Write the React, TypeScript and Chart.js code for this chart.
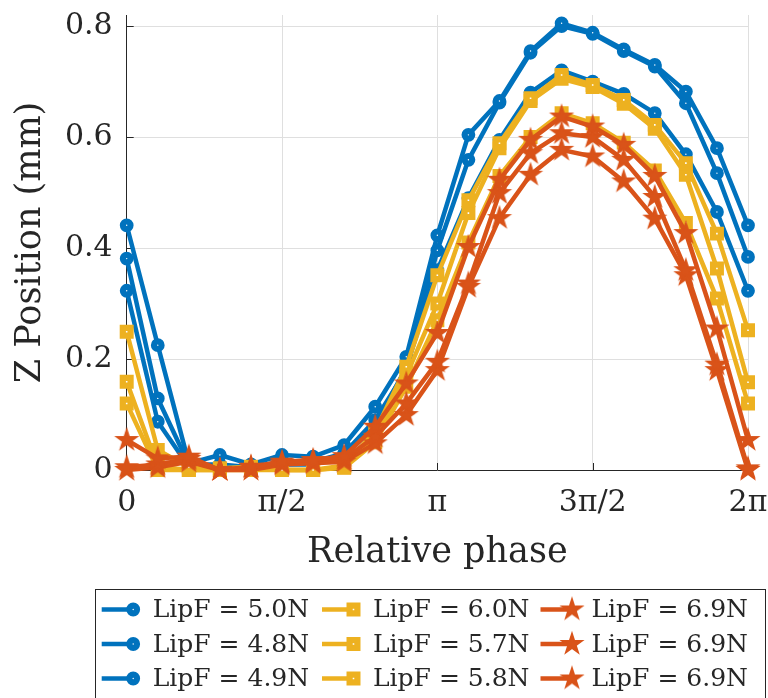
import React, { useEffect, useRef } from 'react';
import { Chart, registerables } from 'chart.js';
Chart.register(...registerables);

// Relative phase in units of pi
const phaseInPi = [0, 0.1, 0.2, 0.3, 0.4, 0.5, 0.6, 0.7, 0.8, 0.9, 1.0, 1.1, 1.2, 1.3, 1.4, 1.5, 1.6, 1.7, 1.8, 1.9, 2.0];
const xTickValues = [0, 0.5, 1, 1.5, 2];
const xTickLabels = ['0', '\u03C0/2', '\u03C0', '3\u03C0/2', '2\u03C0'];
const yTickValues = [0, 0.2, 0.4, 0.6, 0.8];
const yTickLabels = ['0', '0.2', '0.4', '0.6', '0.8'];

// Z position (mm)
const lip50 = [0.441, 0.225, 0.012, 0.027, 0.01, 0.027, 0.024, 0.045, 0.114, 0.204, 0.423, 0.604, 0.665, 0.755, 0.805, 0.788, 0.758, 0.730, 0.682, 0.580, 0.441];
const lip48 = [0.381, 0.129, 0.01, 0.01, 0.005, 0.015, 0.015, 0.03, 0.09, 0.18, 0.396, 0.559, 0.662, 0.752, 0.800, 0.786, 0.755, 0.727, 0.661, 0.535, 0.384];
const lip49 = [0.323, 0.087, 0.006, 0.005, 0.0, 0.01, 0.01, 0.025, 0.08, 0.185, 0.36, 0.49, 0.595, 0.68, 0.72, 0.70, 0.678, 0.643, 0.569, 0.465, 0.323];
const lip60 = [0.249, 0.036, 0.005, 0.003, 0.006, 0.0, 0.0, 0.008, 0.07, 0.186, 0.351, 0.486, 0.589, 0.67, 0.712, 0.694, 0.667, 0.622, 0.553, 0.426, 0.252];
const lip57 = [0.159, 0.006, 0.0, 0.0, 0.002, 0.0, 0.0, 0.005, 0.06, 0.17, 0.30, 0.463, 0.58, 0.665, 0.705, 0.69, 0.66, 0.615, 0.532, 0.363, 0.158];
const lip58 = [0.12, 0.0, 0.0, 0.0, 0.0, 0.0, 0.0, 0.004, 0.05, 0.15, 0.27, 0.41, 0.53, 0.60, 0.643, 0.625, 0.59, 0.54, 0.445, 0.309, 0.12];
const lip69a = [0.054, 0.021, 0.024, 0.0, 0.006, 0.015, 0.018, 0.025, 0.078, 0.156, 0.247, 0.402, 0.523, 0.595, 0.637, 0.619, 0.586, 0.53, 0.427, 0.255, 0.054];
const lip69b = [0.005, 0.01, 0.02, 0.0, 0.005, 0.012, 0.015, 0.02, 0.06, 0.12, 0.195, 0.336, 0.499, 0.571, 0.607, 0.60, 0.559, 0.492, 0.36, 0.19, 0.003];
const lip69c = [0.0, 0.005, 0.015, 0.0, 0.0, 0.01, 0.012, 0.015, 0.048, 0.099, 0.18, 0.33, 0.454, 0.532, 0.577, 0.565, 0.52, 0.453, 0.351, 0.18, 0.0];

const seriesLabels = [
  'LipF = 5.0N', 'LipF = 4.8N', 'LipF = 4.9N',
  'LipF = 6.0N', 'LipF = 5.7N', 'LipF = 5.8N',
  'LipF = 6.9N', 'LipF = 6.9N', 'LipF = 6.9N',
];
const seriesValues = [lip50, lip48, lip49, lip60, lip57, lip58, lip69a, lip69b, lip69c];

const BLUE = '#0072BD';
const YELLOW = '#EDB120';
const ORANGE = '#D95319';
const seriesColors = [BLUE, BLUE, BLUE, YELLOW, YELLOW, YELLOW, ORANGE, ORANGE, ORANGE];
const seriesMarkers = ['circle', 'circle', 'circle', 'rect', 'rect', 'rect', 'star', 'star', 'star'];

const TEXT = '#262626';
const GRID = '#dfdfdf';
const FONT = '"DejaVu Serif", serif';

const CIRCLE_R = 3.8;
const RECT_R = 5.5;
const MARK_W = 6.2;
const LINE_W = 4.5;

function makeStar(color: string, R: number): HTMLCanvasElement {
  const size = Math.ceil(R * 2 + 6);
  const c = document.createElement('canvas');
  c.width = size;
  c.height = size;
  const g = c.getContext('2d')!;
  const cx = size / 2;
  const cy = size / 2;
  g.beginPath();
  for (let k = 0; k < 10; k++) {
    const a = -Math.PI / 2 + (k * Math.PI) / 5;
    const r = k % 2 === 0 ? R : R * 0.382;
    const px = cx + r * Math.cos(a);
    const py = cy + r * Math.sin(a);
    if (k === 0) g.moveTo(px, py);
    else g.lineTo(px, py);
  }
  g.closePath();
  g.fillStyle = color;
  g.fill();
  g.lineWidth = 1.5;
  g.lineJoin = 'miter';
  g.strokeStyle = color;
  g.stroke();
  return c;
}

export default function App() {
  const ref = useRef<HTMLCanvasElement | null>(null);

  useEffect(() => {
    if (!ref.current) return;
    const star = makeStar(ORANGE, 10.8);

    const markerOpts = (m: string, color: string) => {
      if (m === 'circle') {
        return { pointStyle: 'circle', pointRadius: CIRCLE_R, pointBorderWidth: MARK_W, pointBackgroundColor: '#ffffff', pointBorderColor: color };
      }
      if (m === 'rect') {
        return { pointStyle: 'rect', pointRadius: RECT_R, pointBorderWidth: MARK_W, pointBackgroundColor: '#ffffff', pointBorderColor: color };
      }
      return { pointStyle: star, pointRadius: 10, pointBorderWidth: 0, pointBackgroundColor: color, pointBorderColor: color };
    };

    const datasets = seriesValues.map((vals, si) => ({
      label: seriesLabels[si],
      data: vals.map((v, i) => ({ x: phaseInPi[i], y: v })),
      borderColor: seriesColors[si],
      backgroundColor: seriesColors[si],
      borderWidth: LINE_W,
      borderJoinStyle: 'round' as const,
      tension: 0,
      fill: false,
      clip: false as any,
      order: seriesColors[si] === ORANGE ? 0 : seriesColors[si] === YELLOW ? 1 : 2,
      ...markerOpts(seriesMarkers[si], seriesColors[si]),
      pointHoverRadius: 0,
    }));

    const drawMarker = (ctx: CanvasRenderingContext2D, m: string, color: string, x: number, y: number) => {
      if (m === 'circle') {
        ctx.beginPath();
        ctx.arc(x, y, CIRCLE_R, 0, Math.PI * 2);
        ctx.fillStyle = '#ffffff';
        ctx.fill();
        ctx.lineWidth = MARK_W;
        ctx.strokeStyle = color;
        ctx.stroke();
      } else if (m === 'rect') {
        const h = RECT_R * Math.SQRT1_2;
        ctx.beginPath();
        ctx.rect(x - h, y - h, 2 * h, 2 * h);
        ctx.fillStyle = '#ffffff';
        ctx.fill();
        ctx.lineWidth = MARK_W;
        ctx.strokeStyle = color;
        ctx.stroke();
      } else {
        ctx.drawImage(star, x - star.width / 2, y - star.height / 2);
      }
    };

    const tickPlugin = {
      id: 'inwardTicks',
      beforeDatasetsDraw(chart: any) {
        const { ctx, chartArea, scales } = chart;
        ctx.save();
        ctx.strokeStyle = TEXT;
        ctx.lineWidth = 1;
        xTickValues.forEach((v) => {
          const px = Math.round(scales.x.getPixelForValue(v)) + 0.5;
          ctx.beginPath();
          ctx.moveTo(px, chartArea.bottom);
          ctx.lineTo(px, chartArea.bottom - 7);
          ctx.stroke();
        });
        yTickValues.forEach((v) => {
          const py = Math.round(scales.y.getPixelForValue(v)) + 0.5;
          ctx.beginPath();
          ctx.moveTo(chartArea.left, py);
          ctx.lineTo(chartArea.left + 7, py);
          ctx.stroke();
        });
        ctx.restore();
      },
    };

    const legendPlugin = {
      id: 'gridLegend',
      afterDraw(chart: any) {
        const ctx: CanvasRenderingContext2D = chart.ctx;
        ctx.save();
        ctx.strokeStyle = TEXT;
        ctx.lineWidth = 1;
        ctx.fillStyle = '#ffffff';
        ctx.fillRect(95.5, 589.5, 670, 112);
        ctx.strokeRect(95.5, 589.5, 670, 112);
        const colX = [101.7, 322, 540.5];
        const rowY = [609.5, 644, 678.5];
        for (let si = 0; si < seriesLabels.length; si++) {
          const col = Math.floor(si / 3);
          const row = si % 3;
          const lx = colX[col];
          const ly = rowY[row];
          const color = seriesColors[si];
          ctx.beginPath();
          ctx.moveTo(lx, ly);
          ctx.lineTo(lx + 31.5, ly);
          ctx.lineWidth = LINE_W;
          ctx.strokeStyle = color;
          ctx.stroke();
          drawMarker(ctx, seriesMarkers[si], color, lx + 31.5, ly);
          ctx.fillStyle = TEXT;
          ctx.font = `25px ${FONT}`;
          ctx.textBaseline = 'middle';
          ctx.textAlign = 'left';
          ctx.fillText(seriesLabels[si], lx + 51, ly + 1);
        }
        ctx.restore();
      },
    };

    const chart = new Chart(ref.current, {
      type: 'line',
      data: { datasets: datasets as any },
      plugins: [tickPlugin, legendPlugin],
      options: {
        animation: false,
        responsive: false,
        devicePixelRatio: 1,
        layout: { padding: { left: 0, right: 20, top: 15, bottom: 124 } },
        plugins: {
          legend: { display: false },
          tooltip: { enabled: false },
        },
        scales: {
          x: {
            type: 'linear',
            min: 0,
            max: 2,
            afterBuildTicks: (s: any) => {
              s.ticks = xTickValues.map((v) => ({ value: v }));
            },
            afterFit: (s: any) => {
              s.height = 104;
              s.paddingLeft = 0;
              s.paddingRight = 0;
            },
            ticks: {
              autoSkip: false,
              maxRotation: 0,
              minRotation: 0,
              padding: 15,
              color: TEXT,
              font: { family: FONT, size: 30 },
              callback: (_v: any, i: number) => xTickLabels[i],
            },
            grid: {
              color: (c: any) => (c.tick && c.tick.value === 0 ? 'rgba(0,0,0,0)' : GRID),
              drawTicks: false,
              lineWidth: 1,
            },
            border: { color: TEXT, width: 1 },
            title: {
              display: true,
              text: 'Relative phase',
              color: TEXT,
              font: { family: FONT, size: 35 },
              padding: { top: 0, bottom: 0 },
            },
          },
          y: {
            type: 'linear',
            min: 0,
            max: 0.82,
            afterBuildTicks: (s: any) => {
              s.ticks = yTickValues.map((v) => ({ value: v }));
            },
            afterFit: (s: any) => {
              s.width = 126.7;
              s.paddingTop = 0;
              s.paddingBottom = 0;
            },
            ticks: {
              autoSkip: false,
              padding: 14,
              color: TEXT,
              font: { family: FONT, size: 30 },
              callback: (_v: any, i: number) => yTickLabels[i],
            },
            grid: {
              color: (c: any) => (c.tick && c.tick.value === 0 ? 'rgba(0,0,0,0)' : GRID),
              drawTicks: false,
              lineWidth: 1,
            },
            border: { color: TEXT, width: 1 },
            title: {
              display: true,
              text: 'Z Position (mm)',
              color: TEXT,
              font: { family: FONT, size: 35 },
              padding: { top: 10, bottom: 0 },
            },
          },
        },
      },
    });
    return () => chart.destroy();
  }, []);

  return (
    <div style={{ position: 'absolute', left: 0, top: 0, width: 768, height: 698, background: '#ffffff' }}>
      <canvas ref={ref} width={768} height={698} style={{ display: 'block', width: 768, height: 698 }} />
    </div>
  );
}
